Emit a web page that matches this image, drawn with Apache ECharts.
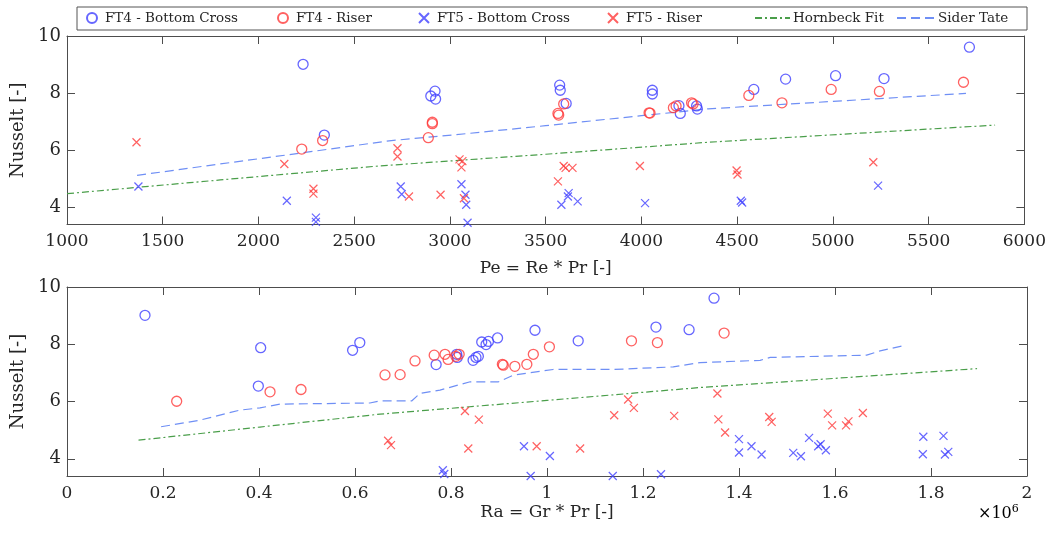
<!DOCTYPE html>
<html><head><meta charset="utf-8">
<script src="https://cdn.jsdelivr.net/npm/echarts@6/dist/echarts.min.js"></script>
<style>html,body{margin:0;padding:0;background:#fff}#c{width:1049px;height:534px}</style>
</head><body><div id="c"></div><script>
// ---------- DATA: top panel (Pe) ----------
const peFt4Bottom = [2233,2344,2922,2900,2925,3573,3576,3607,4057,4057,4196,4203,4288,4292,4587,4753,5014,5267,5713];
const nuPeFt4Bottom = [9.01,6.53,8.07,7.90,7.79,8.28,8.10,7.64,8.10,7.97,7.56,7.29,7.55,7.44,8.13,8.49,8.61,8.51,9.61];
const peFt4Riser = [2226,2335,2887,2908,2908,3564,3568,3594,4040,4045,4167,4181,4262,4270,4561,4734,4991,5243,5682];
const nuPeFt4Riser = [6.04,6.34,6.44,6.98,6.93,7.29,7.23,7.62,7.31,7.30,7.49,7.55,7.66,7.62,7.92,7.66,8.13,8.06,8.38];
const peFt5Bottom = [1373,2148,2300,2300,2743,2748,2804,2972,3060,3081,3085,3092,3582,3616,3620,3667,4019,4519,4526,5236];
const nuPeFt5Bottom = [4.73,4.23,3.64,3.49,4.73,4.46,3.38,3.38,4.81,4.44,4.09,3.46,4.09,4.38,4.50,4.21,4.15,4.23,4.17,4.76];
const peFt5Riser = [1363,2135,2287,2287,2726,2726,2786,2951,3050,3065,3060,3073,3594,3604,3640,3564,3992,4497,4502,5211];
const nuPeFt5Riser = [6.28,5.52,4.65,4.48,6.07,5.78,4.38,4.44,5.68,5.62,5.40,4.32,5.45,5.38,5.38,4.91,5.45,5.29,5.15,5.58];
const peHornbeck = [1000,1800,2630,3500,4349,5100,5847];
const nuPeHornbeck = [4.48,4.96,5.45,5.86,6.28,6.58,6.88];
const peSiderTate = [1366,1800,2230,2682,3100,3500,4000,4349,5000,5695];
const nuPeSiderTate = [5.12,5.52,5.91,6.33,6.59,6.86,7.21,7.45,7.71,7.99];

// ---------- DATA: bottom panel (Ra, x10^6) ----------
const raFt4Bottom = [0.1625,0.4035,0.3986,0.595,0.610,0.769,0.812,0.813,0.846,0.852,0.857,0.864,0.873,0.878,0.897,0.975,1.065,1.227,1.296,1.348];
const nuRaFt4Bottom = [9.01,7.88,6.54,7.79,8.06,7.29,7.65,7.54,7.44,7.54,7.58,8.08,7.99,8.10,8.22,8.49,8.12,8.60,8.51,9.61];
const raFt4Riser = [0.2285,0.423,0.4875,0.6625,0.694,0.725,0.765,0.7875,0.794,0.810,0.817,0.907,0.909,0.933,0.958,0.9715,1.005,1.176,1.230,1.369];
const nuRaFt4Riser = [6.01,6.34,6.42,6.93,6.94,7.42,7.62,7.65,7.47,7.58,7.65,7.30,7.27,7.23,7.30,7.65,7.91,8.12,8.06,8.39];
const raFt5Bottom = [0.783,0.786,0.952,0.966,1.006,1.137,1.2375,1.400,1.400,1.426,1.447,1.513,1.529,1.546,1.565,1.570,1.581,1.784,1.783,1.826,1.829,1.836];
const nuRaFt5Bottom = [3.60,3.47,4.44,3.40,4.10,3.40,3.46,4.69,4.22,4.44,4.15,4.21,4.09,4.73,4.44,4.51,4.30,4.77,4.16,4.80,4.15,4.24];
const raFt5Riser = [0.669,0.675,0.829,0.836,0.858,0.9785,1.069,1.140,1.169,1.181,1.265,1.355,1.357,1.371,1.463,1.468,1.585,1.594,1.623,1.628,1.658];
const nuRaFt5Riser = [4.63,4.48,5.67,4.36,5.37,4.44,4.36,5.52,6.07,5.78,5.50,6.28,5.38,4.92,5.46,5.29,5.58,5.17,5.17,5.31,5.60];
const raHornbeck = [0.149,0.402,0.652,1.0,1.319,1.6,1.896];
const nuRaHornbeck = [4.65,5.11,5.56,6.04,6.49,6.81,7.15];
const raSiderTate = [0.196,0.277,0.360,0.402,0.444,0.631,0.652,0.718,0.735,0.777,0.840,0.899,0.930,1.013,1.138,1.263,1.319,1.444,1.465,1.666,1.694,1.748];
const nuRaSiderTate = [5.12,5.35,5.70,5.78,5.91,5.95,6.02,6.02,6.28,6.40,6.69,6.69,6.92,7.12,7.12,7.21,7.36,7.44,7.54,7.62,7.77,7.97];

// ---------- TICKS / LABELS ----------
const nuTicks = [4,6,8,10];
const legendNames = ['FT4 - Bottom Cross','FT4 - Riser','FT5 - Bottom Cross','FT5 - Riser','Hornbeck Fit','Sider Tate'];
const xNameTop = 'Pe = Re * Pr [-]';
const xNameBottom = 'Ra = Gr * Pr [-]';
const yName = 'Nusselt [-]';

const zip = (a,b) => a.map((v,i)=>[v,b[i]]);
const FONT = 'DejaVu Serif';
const AX = '#4d4d4d', TXT = '#262626';
const BLUE = '#4040ff', RED = '#ff3a3a', GREEN = '#4a9e4a', LBLUE = '#6f8ff5';
const XPATH = 'path://M0,0L10,10M10,0L0,10';

function xAxis(grid, min, max, interval, pos, name, nameGap){
  const bottom = pos === 'bottom';
  return {
    type:'value', gridIndex:grid, position:pos, min, max, interval,
    name: bottom ? name : '', nameLocation:'middle', nameGap,
    nameTextStyle:{fontFamily:FONT,fontSize:17,color:TXT},
    axisLine:{show:true,onZero:false,lineStyle:{color:AX,width:1}},
    axisTick:{show:true,inside:true,length:8,lineStyle:{color:AX}},
    axisLabel:{show:bottom,fontFamily:FONT,fontSize:17,color:TXT,margin:9,
      formatter:(v)=>String(Math.round(v*1000)/1000)},
    splitLine:{show:false}
  };
}
function yAxis(grid, pos){
  const left = pos === 'left';
  return {
    type:'value', gridIndex:grid, position:pos, min:3.4, max:10,
    name: left ? yName : '', nameLocation:'middle', nameGap:37,
    nameTextStyle:{fontFamily:FONT,fontSize:18,color:TXT},
    axisLine:{show:true,onZero:false,lineStyle:{color:AX,width:1}},
    axisTick:{show:true,inside:true,length:8,lineStyle:{color:AX},customValues:nuTicks},
    axisLabel:{show:left,fontFamily:FONT,fontSize:18,color:TXT,margin:6,customValues:nuTicks},
    splitLine:{show:false}
  };
}
function circles(name,color,x,y,xi,yi){
  return {name,type:'scatter',xAxisIndex:xi,yAxisIndex:yi,symbol:'circle',symbolSize:10,
    itemStyle:{color:'transparent',borderColor:color,borderWidth:1.3},data:zip(x,y),z:3};
}
function crosses(name,color,x,y,xi,yi){
  return {name,type:'scatter',xAxisIndex:xi,yAxisIndex:yi,symbol:XPATH,symbolSize:8,
    itemStyle:{color:'transparent',borderColor:color,borderWidth:1.2},data:zip(x,y),z:3};
}
function line(name,color,dash,x,y,xi,yi){
  return {name,type:'line',xAxisIndex:xi,yAxisIndex:yi,symbol:'none',showSymbol:false,smooth:false,
    lineStyle:{color,width:1.2,type:dash},itemStyle:{color},data:zip(x,y),z:2};
}
const DASHDOT = [7,3,2,3], DASH = [9,5];

const legendLefts = [86,277,418,607,754,896];
const legendWidths = [20,20,20,20,35,38];
const legends = legendNames.map((n,i)=>{
  const lg = {
    data:[n], left:legendLefts[i], top:11, itemWidth:legendWidths[i], itemHeight:i<4?10:12,
    itemGap:0, padding:0, selectedMode:false,
    textStyle:{fontFamily:FONT,fontSize:13.5,color:TXT,padding:[0,0,0,-2]}
  };
  if (i>=4) { lg.itemStyle = {opacity:0}; }
  return lg;
});

const chart = echarts.init(document.getElementById('c'));
chart.setOption({
  animation:false,
  backgroundColor:'#fff',
  legend:legends,
  grid:[
    {left:67,top:36,width:960,height:188.5},
    {left:67,top:287,width:960,height:189}
  ],
  xAxis:[
    xAxis(0,1000,6000,500,'bottom',xNameTop,36),
    xAxis(0,1000,6000,500,'top','',0),
    xAxis(1,0,2,0.2,'bottom',xNameBottom,28),
    xAxis(1,0,2,0.2,'top','',0)
  ],
  yAxis:[yAxis(0,'left'),yAxis(0,'right'),yAxis(1,'left'),yAxis(1,'right')],
  graphic:[
    {type:'rect',shape:{x:77,y:7,width:950,height:23},style:{fill:'none',stroke:'#555',lineWidth:1},z:0,silent:true},
    {type:'text',left:978,top:504,style:{text:'{a|×10}{s|6}',rich:{
      a:{fontFamily:FONT,fontSize:16,color:TXT},
      s:{fontFamily:FONT,fontSize:11,color:TXT,verticalAlign:'top',padding:[0,0,8,0]}}}}
  ],
  series:[
    circles(legendNames[0],BLUE,peFt4Bottom,nuPeFt4Bottom,0,0),
    circles(legendNames[1],RED,peFt4Riser,nuPeFt4Riser,0,0),
    crosses(legendNames[2],BLUE,peFt5Bottom,nuPeFt5Bottom,0,0),
    crosses(legendNames[3],RED,peFt5Riser,nuPeFt5Riser,0,0),
    line(legendNames[4],GREEN,DASHDOT,peHornbeck,nuPeHornbeck,0,0),
    line(legendNames[5],LBLUE,DASH,peSiderTate,nuPeSiderTate,0,0),
    circles(legendNames[0],BLUE,raFt4Bottom,nuRaFt4Bottom,2,2),
    circles(legendNames[1],RED,raFt4Riser,nuRaFt4Riser,2,2),
    crosses(legendNames[2],BLUE,raFt5Bottom,nuRaFt5Bottom,2,2),
    crosses(legendNames[3],RED,raFt5Riser,nuRaFt5Riser,2,2),
    line(legendNames[4],GREEN,DASHDOT,raHornbeck,nuRaHornbeck,2,2),
    line(legendNames[5],LBLUE,DASH,raSiderTate,nuRaSiderTate,2,2)
  ]
});
</script></body></html>
